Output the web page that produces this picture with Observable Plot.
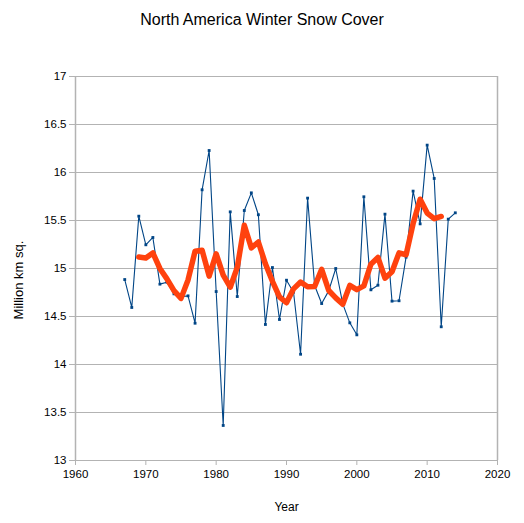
<!DOCTYPE html>
<html>
<head>
<meta charset="utf-8">
<script src="https://cdn.jsdelivr.net/npm/d3@7"></script>
<script src="https://cdn.jsdelivr.net/npm/@observablehq/plot@0.6"></script>
<style>
  html, body { margin: 0; padding: 0; background: #fff; }
  #title { width: 524px; height: 40px; line-height: 40px; text-align: center;
    font-family: "Liberation Sans", Arial, sans-serif; font-size: 16px; color: #000; }
</style>
</head>
<body>
<div id="title">North America Winter Snow Cover</div>
<div id="chart"></div>
<script>
const years = [1967,1968,1969,1970,1971,1972,1973,1974,1975,1976,1977,1978,1979,1980,1981,1982,1983,1984,1985,1986,1987,1988,1989,1990,1991,1992,1993,1994,1995,1996,1997,1998,1999,2000,2001,2002,2003,2004,2005,2006,2007,2008,2009,2010,2011,2012,2013,2014];
const snowCover = [14.885,14.594,15.545,15.247,15.323,14.837,14.857,14.736,14.705,14.715,14.43,15.82,16.229,14.76,13.365,15.59,14.708,15.604,15.788,15.56,14.417,15.01,14.469,14.878,14.753,14.107,15.733,14.823,14.635,14.767,15.0,14.632,14.434,14.309,15.747,14.778,14.826,15.566,14.66,14.664,15.118,15.806,15.465,16.285,15.938,14.393,15.514,15.58];
const avgYears = [1969,1970,1971,1972,1973,1974,1975,1976,1977,1978,1979,1980,1981,1982,1983,1984,1985,1986,1987,1988,1989,1990,1991,1992,1993,1994,1995,1996,1997,1998,1999,2000,2001,2002,2003,2004,2005,2006,2007,2008,2009,2010,2011,2012];
const avgValues = [15.119,15.109,15.162,15.0,14.892,14.77,14.689,14.881,15.18,15.191,14.921,15.153,14.93,14.805,15.011,15.45,15.215,15.276,15.049,14.867,14.705,14.643,14.788,14.859,14.81,14.813,14.992,14.771,14.694,14.628,14.824,14.78,14.819,15.045,15.115,14.899,14.967,15.163,15.143,15.468,15.722,15.577,15.519,15.542];
const xTicks = [1960,1970,1980,1990,2000,2010,2020];
const yTicks = [13,13.5,14,14.5,15,15.5,16,16.5,17];

const raw = years.map((y, i) => ({year: y, value: snowCover[i]}));
const avg = avgYears.map((y, i) => ({year: y, value: avgValues[i]}));

const grey = "#b3b3b3";
const chart = Plot.plot({
  width: 524,
  height: 483,
  marginTop: 36,
  marginBottom: 63,
  marginLeft: 75,
  marginRight: 27,
  style: {fontFamily: "'Liberation Sans', Arial, sans-serif", fontSize: "11.5px", color: "#000", background: "#fff"},
  x: {domain: [1960, 2020]},
  y: {domain: [13, 17]},
  marks: [
    Plot.gridY(yTicks, {stroke: grey, strokeOpacity: 1, strokeWidth: 1}),
    Plot.ruleX([1960, 2020], {stroke: grey, strokeWidth: 1.5}),
    Plot.axisY(yTicks, {tickSize: 6, tickPadding: 3, stroke: grey, fill: "#000", label: null, tickFormat: d => String(d)}),
    Plot.axisX(xTicks, {tickSize: 5, tickPadding: 4, stroke: grey, fill: "#000", label: null, tickFormat: d => String(d)}),
    Plot.line(raw, {x: "year", y: "value", stroke: "#004586", strokeWidth: 1.1}),
    Plot.dot(raw, {x: "year", y: "value", symbol: "square", r: 1.6, fill: "#004586", stroke: null}),
    Plot.line(avg, {x: "year", y: "value", stroke: "#ff420e", strokeWidth: 5.5, strokeLinejoin: "round", strokeLinecap: "round"}),
    Plot.text(["Year"], {frameAnchor: "bottom", dy: 50, fontSize: 12, fill: "#000"})
  ]
});
d3.select(chart).append("text")
  .attr("transform", "translate(20,240) rotate(-90)")
  .attr("text-anchor", "middle")
  .attr("dominant-baseline", "middle")
  .attr("font-size", 13)
  .attr("fill", "#000")
  .text("Million km sq.");
document.getElementById("chart").appendChild(chart);
</script>
</body>
</html>
